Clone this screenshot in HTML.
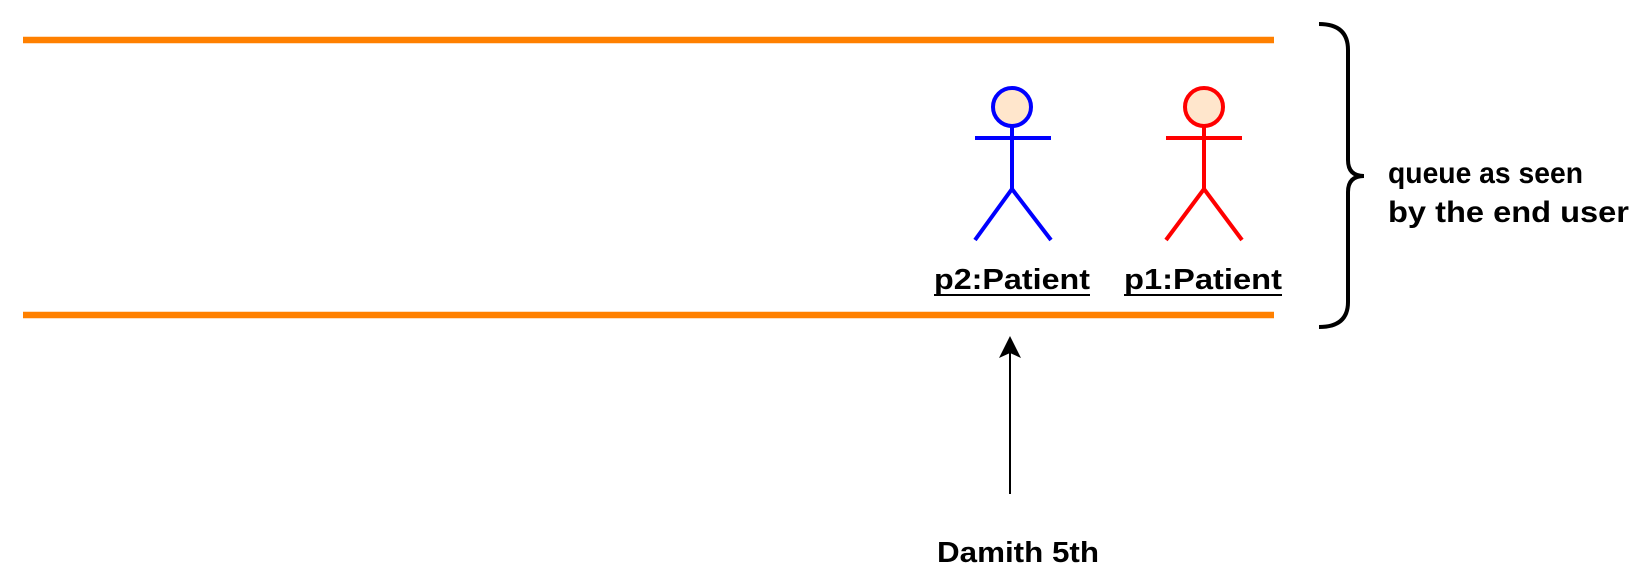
<!DOCTYPE html>
<html><head><meta charset="utf-8"><style>html,body{margin:0;padding:0;background:#fff}svg{display:block}</style></head>
<body>
<svg width="1640" height="582" viewBox="0 0 1640 582" xmlns="http://www.w3.org/2000/svg" font-family="Liberation Sans, sans-serif" font-weight="bold">
<line x1="23" y1="40" x2="1274" y2="40" stroke="#ff8000" stroke-width="6.5"/>
<line x1="23" y1="315" x2="1274" y2="315" stroke="#ff8000" stroke-width="6.5"/>
<g stroke="#0000ff" stroke-width="4" fill="none">
<circle cx="1012" cy="107" r="19" fill="#ffe6cc"/>
<line x1="1012" y1="126" x2="1012" y2="189"/><line x1="975" y1="138" x2="1051" y2="138"/>
<polyline points="975,240 1012,189 1051,240"/></g>
<g stroke="#ff0000" stroke-width="4" fill="none">
<circle cx="1204" cy="107" r="19" fill="#ffe6cc"/>
<line x1="1204" y1="126" x2="1204" y2="189"/><line x1="1166" y1="138" x2="1242" y2="138"/>
<polyline points="1166,240 1204,189 1242,240"/></g>
<text x="934" y="289" font-size="29" textLength="156" lengthAdjust="spacingAndGlyphs">p2:Patient</text>
<line x1="934" y1="295" x2="1090" y2="295" stroke="#000" stroke-width="2"/>
<text x="1124" y="289" font-size="29" textLength="158" lengthAdjust="spacingAndGlyphs">p1:Patient</text>
<line x1="1124" y1="295" x2="1282" y2="295" stroke="#000" stroke-width="2"/>
<path d="M1319,24 Q1348,24 1348,50 L1348,160 Q1348,176 1364,176 Q1348,176 1348,192 L1348,302 Q1348,327 1319,327" fill="none" stroke="#000" stroke-width="4"/>
<text x="1388" y="183" font-size="30" textLength="195" lengthAdjust="spacingAndGlyphs">queue as seen</text>
<text x="1388" y="222" font-size="30" textLength="241" lengthAdjust="spacingAndGlyphs">by the end user</text>
<line x1="1010" y1="494" x2="1010" y2="352" stroke="#000" stroke-width="2"/>
<polygon points="1010,336 1021,358 1010,353 999,358" fill="#000"/>
<text x="937" y="562" font-size="29" textLength="162" lengthAdjust="spacingAndGlyphs">Damith 5th</text>
</svg>
</body></html>
